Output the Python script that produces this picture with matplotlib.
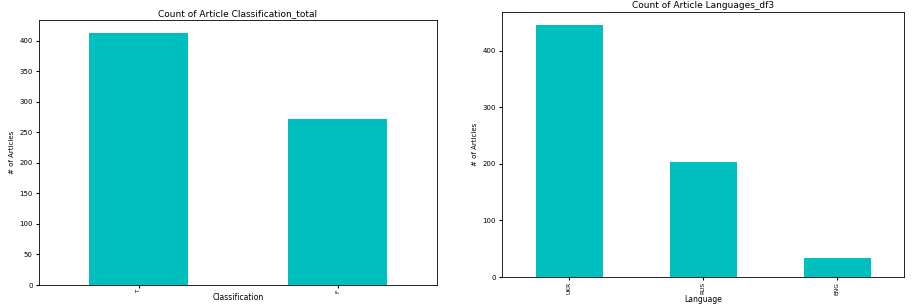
import numpy as np
import matplotlib
matplotlib.use("Agg")
import matplotlib.pyplot as plt

# data
class_labels = ["T", "F"]
class_counts = [413, 272]

lang_labels = ["UKR", "RUS", "ENG"]
lang_counts = [446, 203, 34]

BAR_COLOR = "c"


def bar_count(ax, labels, counts, title, xlabel, yticks, xlabel_y):
    x = np.arange(len(labels))
    ax.bar(x, counts, width=0.5, color=BAR_COLOR)
    ax.set_xticks(x)
    ax.set_xticklabels(labels, rotation=90, fontsize=4.2)
    ax.set_xlim(-0.5, len(labels) - 0.5)
    ax.set_ylim(0, max(counts) * 1.05)
    ax.set_yticks(yticks)
    ax.tick_params(axis="y", labelsize=5, length=2.5, pad=2)
    ax.tick_params(axis="x", length=2.5, pad=1)
    ax.set_title(title, fontsize=6.5, pad=3)
    ax.set_xlabel(xlabel, fontsize=5.5, va="center")
    ax.xaxis.set_label_coords(0.5, xlabel_y)
    ax.set_ylabel("# of Articles", fontsize=5, labelpad=3)
    for s in ax.spines.values():
        s.set_linewidth(0.6)


fig = plt.figure(figsize=(9.24, 3.04), dpi=100)

ax1 = fig.add_axes([39 / 924, 1 - 285 / 304, 398 / 924, 265 / 304])
bar_count(ax1, class_labels, class_counts, "Count of Article Classification_total",
          "Classification", np.arange(0, 401, 50), -12 / 265)

ax2 = fig.add_axes([502 / 924, 1 - 277 / 304, 402 / 924, 265 / 304])
bar_count(ax2, lang_labels, lang_counts, "Count of Article Languages_df3",
          "Language", np.arange(0, 401, 100), -22.5 / 265)

fig.savefig("out.png", dpi=100)
